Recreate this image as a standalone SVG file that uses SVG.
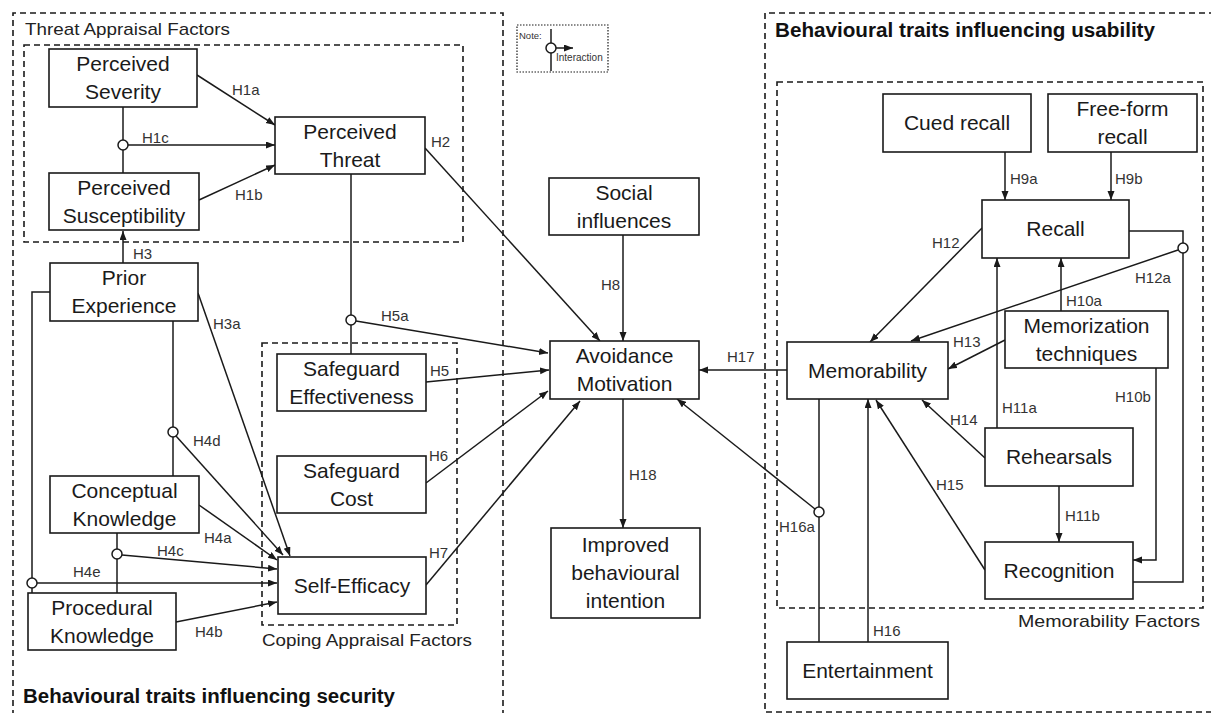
<svg xmlns="http://www.w3.org/2000/svg" width="1211" height="713" viewBox="0 0 1211 713">
<style>
.box{fill:#fff;stroke:#1a1a1a;stroke-width:1.6}
.t{font-family:"Liberation Sans",Arial,sans-serif;font-size:21px;fill:#1a1a1a;text-anchor:middle}
.lb{font-family:"Liberation Sans",Arial,sans-serif;font-size:15px;fill:#333}
.grp{font-family:"Liberation Sans",Arial,sans-serif;font-size:17px;fill:#222}
.bold{font-family:"Liberation Sans",Arial,sans-serif;font-size:20px;font-weight:bold;fill:#111}
.dash{fill:none;stroke:#1a1a1a;stroke-width:1.6;stroke-dasharray:6 4}
.ln{fill:none;stroke:#1a1a1a;stroke-width:1.5}
.ar{fill:none;stroke:#1a1a1a;stroke-width:1.5;marker-end:url(#arr)}
.ic{fill:#fff;stroke:#1a1a1a;stroke-width:1.5}
</style>
<defs>
<marker id="arr" markerUnits="userSpaceOnUse" markerWidth="10" markerHeight="8" refX="9" refY="3.5" orient="auto">
<path d="M0,0 L9,3.5 L0,7 z" fill="#1a1a1a"/>
</marker>
</defs>
<rect width="1211" height="713" fill="#fff"/>

<g id="frames">
<path class="dash" d="M13,716 V13 H503 V716"/>
<rect class="dash" x="24" y="45" width="439" height="197"/>
<rect class="dash" x="262" y="343" width="195" height="282"/>
<path class="dash" d="M1215,13 H765 V712 H1215"/>
<rect class="dash" x="777" y="82" width="426" height="526"/>
<text class="grp" x="25" y="35" textLength="205" lengthAdjust="spacingAndGlyphs">Threat Appraisal Factors</text>
<text class="grp" x="262" y="646" textLength="210" lengthAdjust="spacingAndGlyphs">Coping Appraisal Factors</text>
<text class="grp" x="1018" y="627" textLength="182" lengthAdjust="spacingAndGlyphs">Memorability Factors</text>
<text class="bold" x="23" y="703" textLength="372" lengthAdjust="spacingAndGlyphs">Behavioural traits influencing security</text>
<text class="bold" x="775" y="37" textLength="380" lengthAdjust="spacingAndGlyphs">Behavioural traits influencing usability</text>
</g>

<g id="note">
<rect x="517" y="25" width="91" height="47" fill="#fff" stroke="#1a1a1a" stroke-width="1.2" stroke-dasharray="1.5 1.5"/>
<text x="519" y="39" font-family="Liberation Sans, Arial, sans-serif" font-size="9.5" fill="#333">Note:</text>
<line class="ln" x1="551" y1="29" x2="551" y2="71"/>
<line class="ln" x1="556" y1="48" x2="573" y2="48" marker-end="url(#arr)"/>
<circle class="ic" cx="551" cy="48" r="5"/>
<text x="556" y="61" font-family="Liberation Sans, Arial, sans-serif" font-size="10" fill="#333">Interaction</text>
</g>

<g id="connectors">
<line class="ar" x1="197" y1="75" x2="275" y2="125"/>
<line class="ln" x1="123" y1="107" x2="123" y2="173"/>
<line class="ar" x1="128" y1="145" x2="275" y2="145"/>
<line class="ar" x1="199" y1="200" x2="275" y2="165"/>
<line class="ar" x1="425" y1="148" x2="600" y2="341"/>
<line class="ar" x1="123" y1="263" x2="123" y2="231"/>
<line class="ar" x1="198" y1="293" x2="290" y2="556"/>
<line class="ln" x1="173" y1="321" x2="173" y2="476"/>
<line class="ar" x1="176" y1="436" x2="283" y2="555"/>
<line class="ar" x1="199" y1="505" x2="277" y2="560"/>
<line class="ln" x1="117" y1="533" x2="117" y2="593"/>
<line class="ar" x1="122" y1="555" x2="277" y2="569"/>
<path class="ln" d="M50,292 H32 V593"/>
<line class="ar" x1="37" y1="583" x2="277" y2="583"/>
<line class="ar" x1="176" y1="622" x2="277" y2="602"/>
<line class="ln" x1="351" y1="174" x2="351" y2="354"/>
<line class="ar" x1="356" y1="321" x2="548" y2="353"/>
<line class="ar" x1="426" y1="382" x2="549" y2="370"/>
<line class="ar" x1="426" y1="483" x2="548" y2="391"/>
<line class="ar" x1="426" y1="585" x2="580" y2="401"/>
<line class="ar" x1="623" y1="235" x2="623" y2="341"/>
<line class="ar" x1="623" y1="399" x2="623" y2="528"/>
<line class="ar" x1="787" y1="370" x2="699" y2="370"/>
<line class="ar" x1="1005" y1="152" x2="1005" y2="200"/>
<line class="ar" x1="1111" y1="152" x2="1111" y2="200"/>
<line class="ar" x1="982" y1="228" x2="870" y2="342"/>
<path class="ln" d="M1129,231 H1183 V582 H1133"/>
<line class="ar" x1="1178" y1="250" x2="911" y2="341"/>
<line class="ar" x1="1061" y1="311" x2="1061" y2="258"/>
<line class="ar" x1="1005" y1="340" x2="948" y2="369"/>
<line class="ar" x1="997" y1="428" x2="997" y2="258"/>
<path class="ar" d="M1156,368 V560 H1133"/>
<line class="ar" x1="985" y1="458" x2="922" y2="400"/>
<line class="ar" x1="1059" y1="486" x2="1059" y2="542"/>
<line class="ar" x1="985" y1="570" x2="876" y2="400"/>
<line class="ar" x1="868" y1="642" x2="868" y2="399"/>
<line class="ln" x1="819" y1="399" x2="819" y2="642"/>
<line class="ar" x1="815" y1="509" x2="677" y2="399"/>
<circle class="ic" cx="123" cy="145" r="5"/>
<circle class="ic" cx="173" cy="432" r="5"/>
<circle class="ic" cx="117" cy="554" r="5"/>
<circle class="ic" cx="32" cy="583" r="5"/>
<circle class="ic" cx="351" cy="320" r="5"/>
<circle class="ic" cx="1183" cy="248" r="5"/>
<circle class="ic" cx="819" cy="512" r="5"/>
<g class="lb">
<text x="232" y="95">H1a</text>
<text x="142" y="143">H1c</text>
<text x="235" y="200">H1b</text>
<text x="431" y="147">H2</text>
<text x="133" y="259">H3</text>
<text x="213" y="329">H3a</text>
<text x="193" y="446">H4d</text>
<text x="204" y="543">H4a</text>
<text x="157" y="556">H4c</text>
<text x="73" y="577">H4e</text>
<text x="195" y="637">H4b</text>
<text x="381" y="321">H5a</text>
<text x="430" y="376">H5</text>
<text x="429" y="461">H6</text>
<text x="429" y="558">H7</text>
<text x="601" y="290">H8</text>
<text x="629" y="480">H18</text>
<text x="727" y="362">H17</text>
<text x="1010" y="184">H9a</text>
<text x="1115" y="184">H9b</text>
<text x="932" y="248">H12</text>
<text x="1135" y="283">H12a</text>
<text x="1066" y="306">H10a</text>
<text x="953" y="347">H13</text>
<text x="1002" y="413">H11a</text>
<text x="1115" y="402">H10b</text>
<text x="950" y="425">H14</text>
<text x="936" y="490">H15</text>
<text x="1065" y="521">H11b</text>
<text x="873" y="636">H16</text>
<text x="779" y="532">H16a</text>
</g>
</g>

<g id="perceived-severity"><rect class="box" x="49" y="49" width="148" height="58"/><text class="t" x="123" y="71">Perceived</text><text class="t" x="123" y="99">Severity</text></g>
<g id="perceived-susceptibility"><rect class="box" x="49" y="173" width="150" height="57"/><text class="t" x="124" y="194.5">Perceived</text><text class="t" x="124" y="222.5">Susceptibility</text></g>
<g id="perceived-threat"><rect class="box" x="275" y="117" width="150" height="57"/><text class="t" x="350" y="138.5">Perceived</text><text class="t" x="350" y="166.5">Threat</text></g>
<g id="prior-experience"><rect class="box" x="50" y="263" width="148" height="58"/><text class="t" x="124" y="285">Prior</text><text class="t" x="124" y="313">Experience</text></g>
<g id="conceptual-knowledge"><rect class="box" x="50" y="476" width="149" height="57"/><text class="t" x="124.5" y="497.5">Conceptual</text><text class="t" x="124.5" y="525.5">Knowledge</text></g>
<g id="procedural-knowledge"><rect class="box" x="28" y="593" width="148" height="57"/><text class="t" x="102" y="614.5">Procedural</text><text class="t" x="102" y="642.5">Knowledge</text></g>
<g id="safeguard-effectiveness"><rect class="box" x="277" y="354" width="149" height="57"/><text class="t" x="351.5" y="375.5">Safeguard</text><text class="t" x="351.5" y="403.5">Effectiveness</text></g>
<g id="safeguard-cost"><rect class="box" x="277" y="456" width="149" height="57"/><text class="t" x="351.5" y="477.5">Safeguard</text><text class="t" x="351.5" y="505.5">Cost</text></g>
<g id="self-efficacy"><rect class="box" x="278" y="557" width="148" height="57"/><text class="t" x="352" y="593">Self-Efficacy</text></g>
<g id="social-influences"><rect class="box" x="549" y="178" width="150" height="57"/><text class="t" x="624" y="199.5">Social</text><text class="t" x="624" y="227.5">influences</text></g>
<g id="avoidance-motivation"><rect class="box" x="550" y="341" width="149" height="58"/><text class="t" x="624.5" y="363">Avoidance</text><text class="t" x="624.5" y="391">Motivation</text></g>
<g id="improved-behavioural-intention"><rect class="box" x="551" y="528" width="149" height="90"/><text class="t" x="625.5" y="552">Improved</text><text class="t" x="625.5" y="580">behavioural</text><text class="t" x="625.5" y="608">intention</text></g>
<g id="cued-recall"><rect class="box" x="883" y="94" width="148" height="58"/><text class="t" x="957" y="130">Cued recall</text></g>
<g id="free-form-recall"><rect class="box" x="1048" y="94" width="149" height="58"/><text class="t" x="1122.5" y="116">Free-form</text><text class="t" x="1122.5" y="144">recall</text></g>
<g id="recall"><rect class="box" x="982" y="200" width="147" height="58"/><text class="t" x="1055.5" y="236">Recall</text></g>
<g id="memorization-techniques"><rect class="box" x="1005" y="311" width="163" height="57"/><text class="t" x="1086.5" y="332.5">Memorization</text><text class="t" x="1086.5" y="360.5">techniques</text></g>
<g id="memorability"><rect class="box" x="787" y="342" width="161" height="57"/><text class="t" x="867.5" y="377.5">Memorability</text></g>
<g id="rehearsals"><rect class="box" x="985" y="428" width="148" height="58"/><text class="t" x="1059" y="464">Rehearsals</text></g>
<g id="recognition"><rect class="box" x="985" y="542" width="148" height="57"/><text class="t" x="1059" y="577.5">Recognition</text></g>
<g id="entertainment"><rect class="box" x="787" y="642" width="161" height="57"/><text class="t" x="867.5" y="677.5">Entertainment</text></g>
</svg>
